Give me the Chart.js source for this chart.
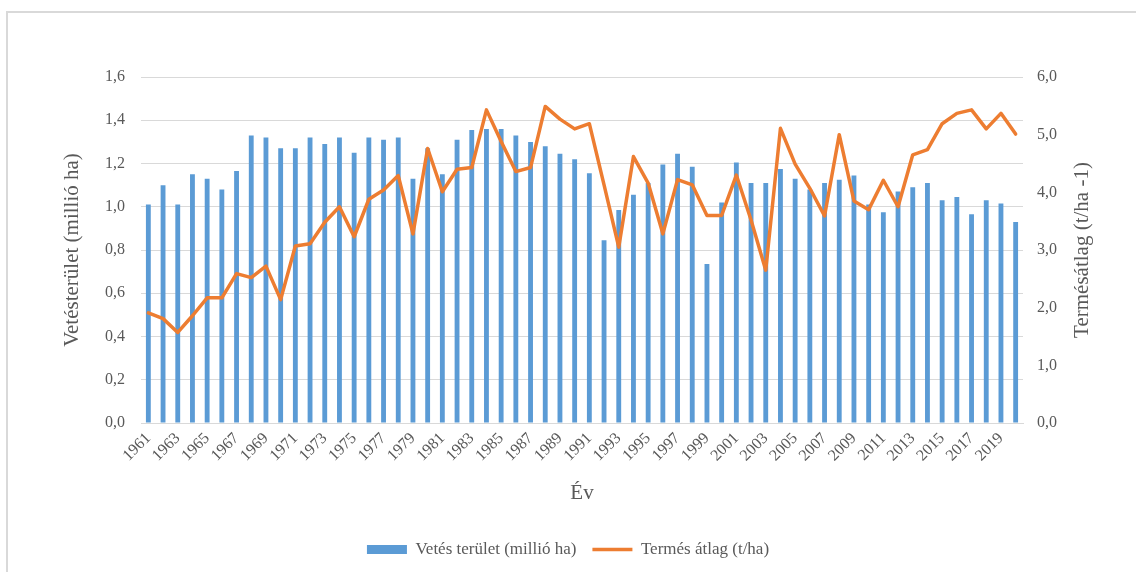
<!DOCTYPE html>
<html>
<head>
<meta charset="utf-8">
<script src="https://cdn.jsdelivr.net/npm/chart.js@4/dist/chart.umd.min.js"></script>
<style>
  html, body { margin: 0; padding: 0; background: #fff; overflow: hidden; }
  .frame { position: absolute; left: 6px; top: 11px; width: 1140px; height: 570px; border: 2px solid #d9d9d9; }
  #chart { position: absolute; left: 0; top: 0; }
</style>
</head>
<body>
<div class="frame"></div>
<canvas id="chart" width="1136" height="572"></canvas>
<script>
// years on the x axis
const years = [
  '1961','1962','1963','1964','1965','1966','1967','1968','1969','1970',
  '1971','1972','1973','1974','1975','1976','1977','1978','1979','1980',
  '1981','1982','1983','1984','1985','1986','1987','1988','1989','1990',
  '1991','1992','1993','1994','1995','1996','1997','1998','1999','2000',
  '2001','2002','2003','2004','2005','2006','2007','2008','2009','2010',
  '2011','2012','2013','2014','2015','2016','2017','2018','2019','2020'
];

// sown area, million ha (left axis)
const sownArea = [
  1.01, 1.10, 1.01, 1.15, 1.13, 1.08, 1.165, 1.33, 1.32, 1.27,
  1.27, 1.32, 1.29, 1.32, 1.25, 1.32, 1.31, 1.32, 1.13, 1.27,
  1.15, 1.31, 1.355, 1.36, 1.36, 1.33, 1.30, 1.28, 1.245, 1.22,
  1.155, 0.845, 0.985, 1.055, 1.11, 1.195, 1.245, 1.185, 0.735, 1.02,
  1.205, 1.11, 1.11, 1.175, 1.13, 1.08, 1.11, 1.125, 1.145, 1.01,
  0.975, 1.07, 1.09, 1.11, 1.03, 1.045, 0.965, 1.03, 1.015, 0.93
];

// average yield, t/ha (right axis)
const avgYield = [
  1.91, 1.81, 1.57, 1.86, 2.17, 2.17, 2.59, 2.52, 2.72, 2.14,
  3.07, 3.11, 3.48, 3.75, 3.23, 3.88, 4.04, 4.29, 3.28, 4.76,
  4.01, 4.40, 4.43, 5.43, 4.88, 4.36, 4.43, 5.49, 5.27, 5.10,
  5.19, 4.13, 3.05, 4.62, 4.16, 3.28, 4.22, 4.13, 3.60, 3.60,
  4.30, 3.52, 2.65, 5.11, 4.49, 4.07, 3.59, 5.00, 3.85, 3.70,
  4.21, 3.75, 4.65, 4.74, 5.19, 5.37, 5.43, 5.10, 5.37, 5.01
];

const textColor = '#595959';
const serif = "'Liberation Serif', 'Times New Roman', serif";
const comma = v => Number(v).toFixed(1).replace('.', ',');

// right axis title reads bottom-to-top like the left one
const rightTitle = {
  id: 'rightTitle',
  afterDraw(chart) {
    const { ctx, chartArea } = chart;
    ctx.save();
    ctx.translate(1082, (chartArea.top + chartArea.bottom) / 2);
    ctx.rotate(-Math.PI / 2);
    ctx.fillStyle = textColor;
    ctx.font = "21px " + serif;
    ctx.textAlign = 'center';
    ctx.textBaseline = 'middle';
    ctx.fillText('Termésátlag (t/ha -1)', 0, 0);
    ctx.restore();
  }
};

new Chart(document.getElementById('chart'), {
  data: {
    labels: years,
    datasets: [
      {
        type: 'line',
        label: 'Termés átlag (t/ha)',
        data: avgYield,
        yAxisID: 'y1',
        borderColor: '#ED7D31',
        backgroundColor: '#ED7D31',
        borderWidth: 3.5,
        pointRadius: 0,
        pointStyle: 'line',
        borderJoinStyle: 'round',
        borderCapStyle: 'round',
        tension: 0,
        order: 1
      },
      {
        type: 'bar',
        label: 'Vetés terület (millió ha)',
        data: sownArea,
        yAxisID: 'y',
        backgroundColor: '#5B9BD5',
        borderWidth: 0,
        pointStyle: 'rect',
        categoryPercentage: 1,
        barPercentage: 0.33,
        order: 2
      }
    ]
  },
  options: {
    responsive: false,
    animation: false,
    layout: { padding: { top: 77, left: 0, right: 0, bottom: 4 } },
    plugins: {
      tooltip: { enabled: false },
      legend: {
        position: 'bottom',
        reverse: true,
        labels: {
          usePointStyle: true,
          pointStyleWidth: 40,
          boxHeight: 9,
          padding: 16,
          color: textColor,
          font: { family: serif, size: 17 }
        }
      }
    },
    scales: {
      x: {
        offset: true,
        grid: { display: false, drawTicks: false },
        border: { display: true, color: '#d9d9d9', width: 1 },
        ticks: {
          autoSkip: false,
          minRotation: 45,
          maxRotation: 45,
          padding: 6,
          color: textColor,
          font: { family: serif, size: 16 },
          callback: (v, i) => (i % 2 === 0 ? years[i] : '')
        },
        title: {
          display: true,
          text: 'Év',
          color: textColor,
          font: { family: serif, size: 21 },
          padding: { top: 0, bottom: 19 }
        },
        afterFit: s => { s.height = 102; }
      },
      y: {
        position: 'left',
        min: 0,
        max: 1.6,
        grid: { color: '#d9d9d9', drawTicks: false },
        border: { display: false },
        ticks: {
          stepSize: 0.2,
          padding: 16,
          color: textColor,
          font: { family: serif, size: 16 },
          callback: v => comma(v)
        },
        title: {
          display: true,
          text: 'Vetésterület (millió ha)',
          color: textColor,
          font: { family: serif, size: 21 },
          padding: { top: 60, bottom: 0 }
        },
        afterFit: s => { s.width = 141; }
      },
      y1: {
        position: 'right',
        min: 0,
        max: 6,
        grid: { display: false, drawTicks: false },
        border: { display: false },
        ticks: {
          stepSize: 1,
          padding: 14,
          color: textColor,
          font: { family: serif, size: 16 },
          callback: v => comma(v)
        },
        afterFit: s => { s.width = 113; }
      }
    }
  },
  plugins: [rightTitle]
});
</script>
</body>
</html>
